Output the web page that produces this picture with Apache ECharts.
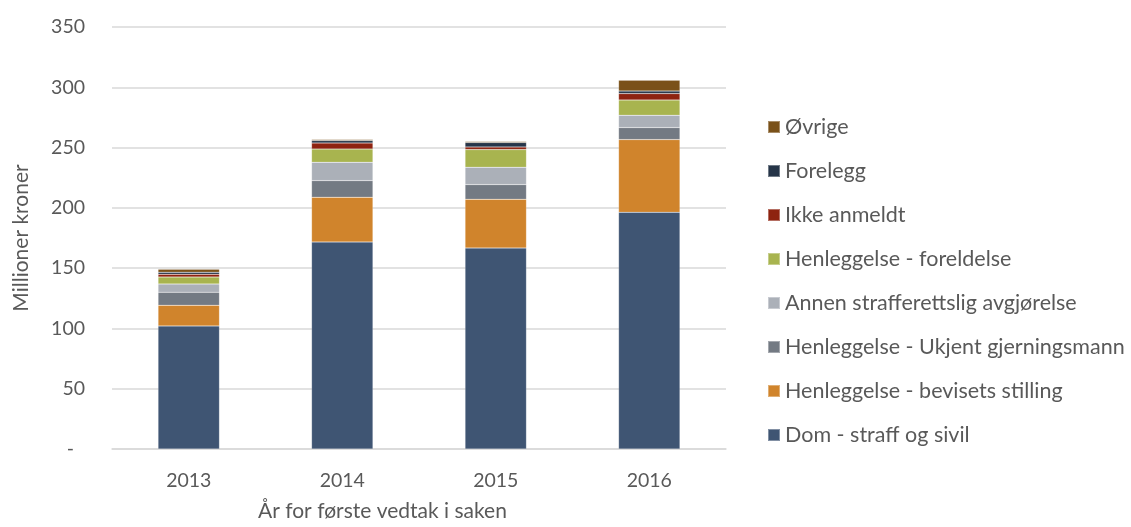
<!DOCTYPE html>
<html><head><meta charset="utf-8">
<script src="https://cdn.jsdelivr.net/npm/echarts@6/dist/echarts.min.js"></script>
<style>html,body{margin:0;padding:0;background:#fff}#c{width:1131px;height:527px}</style>
</head><body><div id="c"></div>
<script>
const years = ['2013', '2014', '2015', '2016'];
const dom = [102.1, 171.7, 166.7, 196.3];
const bevisets = [17.1, 37.1, 40.4, 60.3];
const ukjent = [10.8, 13.8, 12.2, 10.0];
const annen = [6.9, 15.2, 14.4, 10.2];
const foreldelse = [5.8, 11.0, 14.6, 12.7];
const ikkeAnmeldt = [2.2, 5.0, 2.2, 5.3];
const forelegg = [1.7, 2.0, 3.7, 2.1];
const ovrige = [2.5, 0.8, 0.8, 8.9];
const yTicks = [0, 50, 100, 150, 200, 250, 300, 350];

const seriesDefs = [
  ['Dom - straff og sivil', dom, '#3F5573'],
  ['Henleggelse - bevisets stilling', bevisets, '#D0842C'],
  ['Henleggelse - Ukjent gjerningsmann', ukjent, '#737A83'],
  ['Annen strafferettslig avgjørelse', annen, '#ABB0B8'],
  ['Henleggelse - foreldelse', foreldelse, '#A8B44F'],
  ['Ikke anmeldt', ikkeAnmeldt, '#8E2310'],
  ['Forelegg', forelegg, '#263548'],
  ['Øvrige', ovrige, '#7A5119']
];
const FONT = 'Lato';
const TXT = '#595959';
const chart = echarts.init(document.getElementById('c'), null, {renderer: 'canvas'});
chart.setOption({
  animation: false,
  textStyle: {fontFamily: FONT},
  grid: {left: 112, right: 1131 - 726, top: 27, bottom: 527 - 449},
  title: {
    text: 'År for første vedtak i saken', left: 258, top: 501, padding: 0,
    textStyle: {fontFamily: FONT, fontSize: 21, fontWeight: 'normal', color: TXT}
  },
  legend: {
    orient: 'vertical', left: 767, top: 116, padding: 0,
    icon: 'rect', itemWidth: 12, itemHeight: 12, itemGap: 22,
    data: seriesDefs.map(s => s[0]).reverse(),
    textStyle: {fontFamily: FONT, fontSize: 21.5, color: TXT, lineHeight: 22}
  },
  xAxis: {
    type: 'category', data: years,
    axisLine: {lineStyle: {color: '#D9D9D9', width: 1.5}},
    axisTick: {show: false},
    axisLabel: {color: TXT, fontSize: 19.5, margin: 22, fontFamily: FONT}
  },
  yAxis: {
    type: 'value', min: yTicks[0], max: yTicks[yTicks.length - 1], interval: 50,
    name: 'Millioner kroner', nameLocation: 'middle', nameGap: 80,
    nameTextStyle: {color: TXT, fontSize: 21, fontFamily: FONT},
    axisLine: {show: false}, axisTick: {show: false},
    splitLine: {lineStyle: {color: '#D9D9D9', width: 1.5}},
    axisLabel: {
      color: TXT, fontSize: 19.5, margin: 27, fontFamily: FONT,
      formatter: v => v === 0 ? '{z|-}' : String(v),
      rich: {z: {color: TXT, fontSize: 19.5, fontFamily: FONT, padding: [0, 11, 0, 0]}}
    }
  },
  series: seriesDefs.map(([name, data, color]) => ({
    name, type: 'bar', stack: 'total', data, barWidth: '40%',
    itemStyle: {color, borderColor: 'rgba(255,255,255,0.35)', borderWidth: 0.5}
  }))
});
</script></body></html>
